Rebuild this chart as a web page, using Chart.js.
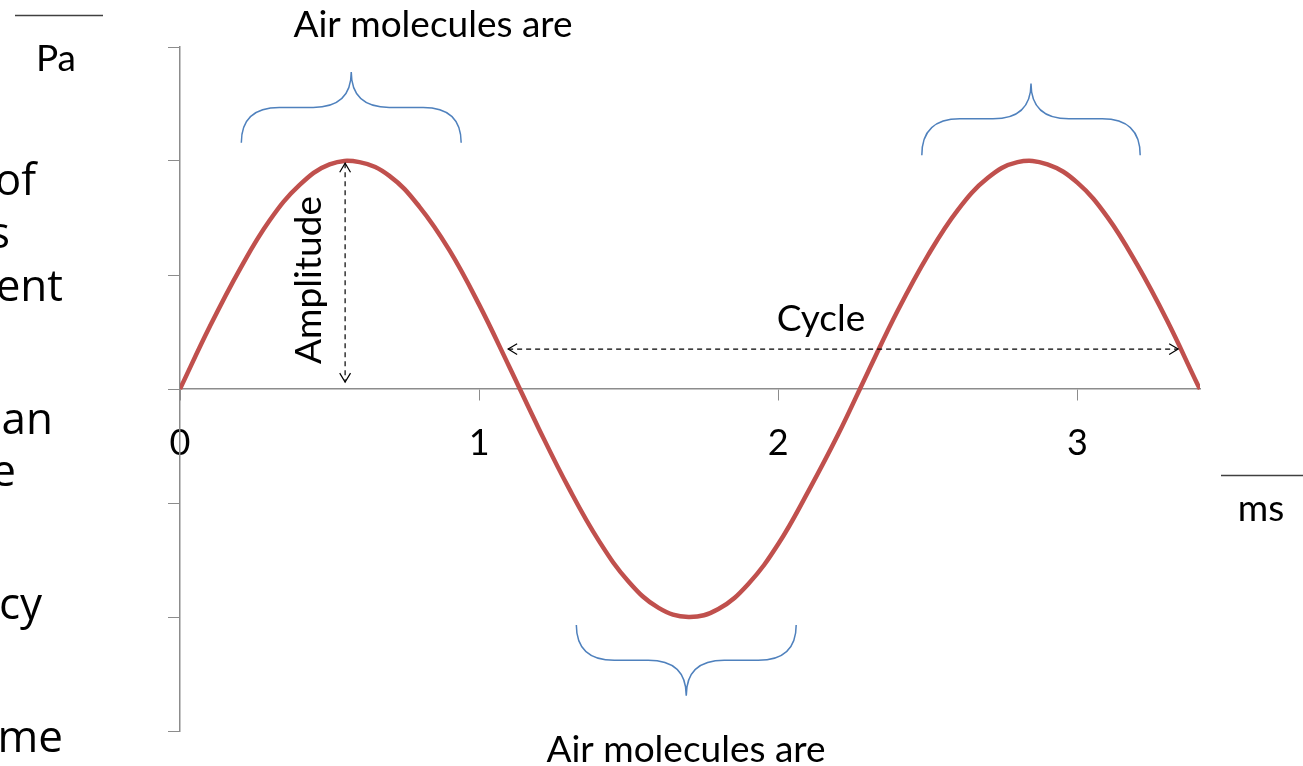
<!DOCTYPE html>
<html>
<head>
<meta charset="utf-8">
<title>Sound wave</title>
<script src="https://cdn.jsdelivr.net/npm/chart.js@4.4.1/dist/chart.umd.min.js"></script>
<style>
    html, body { margin: 0; padding: 0; background: #ffffff; }
    #wrap { position: relative; width: 1303px; height: 766px; }
</style>
</head>
<body>
<div id="wrap"><canvas id="waveChart"></canvas></div>
<script>
// time in ms, sound pressure in Pa
const timeMs = [0, 0.1, 0.2, 0.3, 0.4, 0.5, 0.6, 0.7, 0.8, 0.9,
    1.0, 1.1, 1.2, 1.3, 1.4, 1.5, 1.6, 1.7, 1.8, 1.9,
    2.0, 2.1, 2.2, 2.3, 2.4, 2.5, 2.6, 2.7, 2.8, 2.9,
    3.0, 3.1, 3.2, 3.3, 3.4, 3.41];
const pressure = [0, 0.55, 1.05, 1.48, 1.79, 1.97, 1.99, 1.87, 1.60, 1.22,
    0.74, 0.20, -0.35, -0.87, -1.33, -1.69, -1.92, -2.00, -1.93, -1.71,
    -1.36, -0.90, -0.40, 0.15, 0.69, 1.17, 1.57, 1.85, 1.99, 1.97,
    1.81, 1.51, 1.09, 0.60, 0.05, 0];
const xTickValues = [0, 1, 2, 3];
const yTickValues = [-3, -2, -1, 0, 1, 2, 3];

const axisGrey = '#8c8c8c';
const waveRed = '#c0504d';
const braceBlue = '#4f81bd';
const labelFont = 'Lato, "Liberation Sans", sans-serif';

// curly brace, in data units: x from-to, end / flat / tip height
function drawBrace(ctx, xs, ys, x0, x1, yEnd, yFlat, yTip) {
    const a = xs.getPixelForValue(x0);
    const b = xs.getPixelForValue(x1);
    const c = (a + b) / 2;
    const pe = ys.getPixelForValue(yEnd);
    const pf = ys.getPixelForValue(yFlat);
    const pt = ys.getPixelForValue(yTip);
    const r = 38;
    ctx.beginPath();
    ctx.moveTo(a, pe);
    ctx.quadraticCurveTo(a, pf, a + r, pf);
    ctx.lineTo(c - r, pf);
    ctx.quadraticCurveTo(c, pf, c, pt);
    ctx.quadraticCurveTo(c, pf, c + r, pf);
    ctx.lineTo(b - r, pf);
    ctx.quadraticCurveTo(b, pf, b, pe);
    ctx.stroke();
}

function arrowHead(ctx, x, y, dx, dy) {
    const s = 9;
    const px = -dy, py = dx;
    ctx.beginPath();
    ctx.moveTo(x - dx * s + px * s * 0.6, y - dy * s + py * s * 0.6);
    ctx.lineTo(x, y);
    ctx.lineTo(x - dx * s - px * s * 0.6, y - dy * s - py * s * 0.6);
    ctx.stroke();
}

function dashedArrow(ctx, x1, y1, x2, y2) {
    const len = Math.hypot(x2 - x1, y2 - y1);
    const dx = (x2 - x1) / len, dy = (y2 - y1) / len;
    ctx.save();
    ctx.setLineDash([5, 4]);
    ctx.beginPath();
    ctx.moveTo(x1, y1);
    ctx.lineTo(x2, y2);
    ctx.stroke();
    ctx.restore();
    arrowHead(ctx, x2, y2, dx, dy);
    arrowHead(ctx, x1, y1, -dx, -dy);
}

const annotations = {
    id: 'annotations',
    afterDraw(chart) {
        const ctx = chart.ctx;
        const xs = chart.scales.x;
        const ys = chart.scales.y;
        ctx.save();

        // braces over the compressions / under the rarefaction
        ctx.strokeStyle = braceBlue;
        ctx.lineWidth = 1.5;
        drawBrace(ctx, xs, ys, 0.205, 0.94, 2.16, 2.47, 2.78);
        drawBrace(ctx, xs, ys, 2.48, 3.21, 2.05, 2.37, 2.68);
        drawBrace(ctx, xs, ys, 1.325, 2.06, -2.07, -2.38, -2.69);

        // amplitude and cycle arrows
        ctx.strokeStyle = '#000000';
        ctx.lineWidth = 1.2;
        dashedArrow(ctx, xs.getPixelForValue(0.552), ys.getPixelForValue(1.98),
            xs.getPixelForValue(0.552), ys.getPixelForValue(0.06));
        dashedArrow(ctx, xs.getPixelForValue(1.097), ys.getPixelForValue(0.35),
            xs.getPixelForValue(3.337), ys.getPixelForValue(0.35));

        ctx.fillStyle = '#000000';
        ctx.font = '37px ' + labelFont;
        ctx.textAlign = 'center';
        ctx.textBaseline = 'alphabetic';
        ctx.fillText('Air molecules are', 433, 37);
        ctx.fillText('Air molecules are', 686, 762);
        ctx.fillText('Cycle', 821, 331);
        ctx.fillText('Pa', 56, 71);
        ctx.fillText('ms', 1261, 521);

        ctx.save();
        ctx.translate(321, 280);
        ctx.rotate(-Math.PI / 2);
        ctx.fillText('Amplitude', 0, 0);
        ctx.restore();

        // unit fraction bars
        ctx.strokeStyle = '#404040';
        ctx.lineWidth = 1.5;
        ctx.beginPath();
        ctx.moveTo(15, 15.5);
        ctx.lineTo(103, 15.5);
        ctx.moveTo(1221, 475.5);
        ctx.lineTo(1303, 475.5);
        ctx.stroke();

        // cut-off text from the slide on the left
        ctx.font = '44px "Open Sans", sans-serif';
        ctx.textAlign = 'right';
        const side = [['of', 36, 195], ['s', 10, 248], ['ent', 63, 301], ['an', 53, 434],
            ['e', 16, 486], ['cy', 42, 619], ['me', 63, 752]];
        side.forEach(([t, x, y]) => ctx.fillText(t, x, y));
        ctx.restore();
    }
};

const ctx = document.getElementById('waveChart').getContext('2d');
new Chart(ctx, {
    type: 'line',
    data: {
        labels: timeMs,
        datasets: [{
            data: timeMs.map((t, i) => ({ x: t, y: pressure[i] })),
            borderColor: waveRed,
            borderWidth: 4.5,
            pointRadius: 0,
            tension: 0.4,
            fill: false
        }]
    },
    options: {
        responsive: true,
        maintainAspectRatio: false,
        animation: false,
        layout: { padding: { left: 168, right: 103, top: 47, bottom: 35 } },
        plugins: {
            legend: { display: false },
            tooltip: { enabled: false }
        },
        scales: {
            x: {
                type: 'linear',
                min: 0,
                max: 3.41,
                position: { y: 0 },
                afterBuildTicks: scale => { scale.ticks = xTickValues.map(v => ({ value: v })); },
                grid: { drawOnChartArea: false, drawTicks: true, tickLength: 11, color: axisGrey },
                border: { color: axisGrey, width: 1.5 },
                ticks: { color: '#000000', padding: 22, maxRotation: 0, font: { family: labelFont, size: 36 } }
            },
            y: {
                type: 'linear',
                min: -3,
                max: 3,
                afterBuildTicks: scale => { scale.ticks = yTickValues.map(v => ({ value: v })); },
                afterFit: scale => { scale.width = 12; },
                grid: { drawOnChartArea: false, drawTicks: true, tickLength: 12, color: axisGrey },
                border: { color: axisGrey, width: 1.5 },
                ticks: { display: false }
            }
        }
    },
    plugins: [annotations]
});
</script>
</body>
</html>
